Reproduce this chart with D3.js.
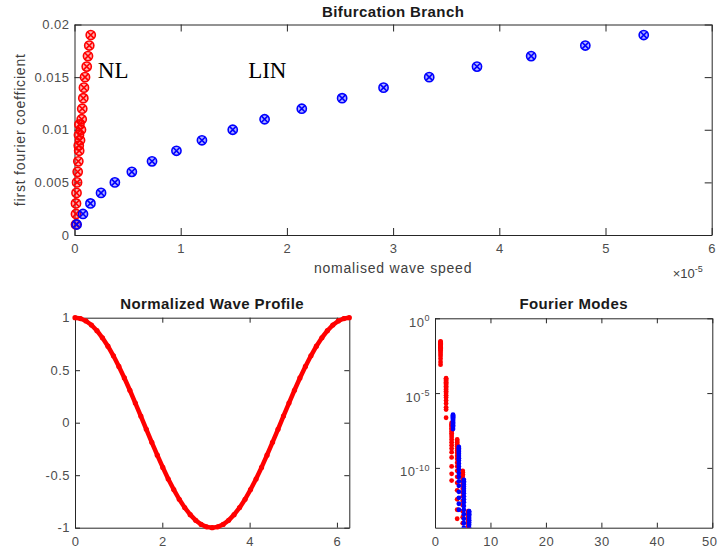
<!DOCTYPE html>
<html>
<head>
<meta charset="utf-8">
<script src="https://cdn.jsdelivr.net/npm/d3@7"></script>
<style>
  body { margin: 0; background: #fff; }
  svg text { font-family: "Liberation Sans", Arial, sans-serif; }
  .tick text { fill: #4d4d4d; font-size: 13px; letter-spacing: 0.5px; }
  .domain, .tick line { stroke: #262626; }
</style>
</head>
<body>
<div id="chart"></div>
<script>
"use strict";

// --- bifurcation branch (x in units of 1e-5) ---
var linSpeed = [0.02, 0.08, 0.15, 0.25, 0.38, 0.54, 0.73, 0.96, 1.20, 1.49,
  1.79, 2.14, 2.52, 2.91, 3.34, 3.79, 4.30, 4.81, 5.36];
var linCoef = [0.001, 0.002, 0.003, 0.004, 0.005, 0.006, 0.007, 0.008, 0.009, 0.010,
  0.011, 0.012, 0.013, 0.014, 0.015, 0.016, 0.017, 0.018, 0.019];
var nlSpeed = [0.014, 0.014, 0.014, 0.019, 0.024, 0.030, 0.036, 0.044, 0.052, 0.061,
  0.068, 0.073, 0.083, 0.089, 0.099, 0.115, 0.127, 0.139, 0.153,
  0.040, 0.042, 0.046];
var nlCoef = [0.001, 0.002, 0.003, 0.004, 0.005, 0.006, 0.007, 0.008, 0.009, 0.010,
  0.011, 0.012, 0.013, 0.014, 0.015, 0.016, 0.017, 0.018, 0.019,
  0.0085, 0.0095, 0.0105];
var branchXTicks = [0, 1, 2, 3, 4, 5, 6];
var branchYTicks = [0, 0.005, 0.01, 0.015, 0.02];

// --- normalized wave profile ---
var waveX = [0, 0.126, 0.251, 0.377, 0.503, 0.628, 0.754, 0.880, 1.005, 1.131, 1.257,
  1.382, 1.508, 1.634, 1.759, 1.885, 2.011, 2.136, 2.262, 2.388, 2.513, 2.639,
  2.765, 2.890, 3.016, 3.142, 3.267, 3.393, 3.519, 3.644, 3.770, 3.896, 4.021,
  4.147, 4.273, 4.398, 4.524, 4.650, 4.775, 4.901, 5.027, 5.152, 5.278, 5.404,
  5.529, 5.655, 5.781, 5.906, 6.032, 6.158, 6.283];
var waveY = [1, 0.992, 0.969, 0.930, 0.876, 0.809, 0.729, 0.637, 0.536, 0.426, 0.309,
  0.187, 0.063, -0.063, -0.187, -0.309, -0.426, -0.536, -0.637, -0.729, -0.809,
  -0.876, -0.930, -0.969, -0.992, -1, -0.992, -0.969, -0.930, -0.876, -0.809,
  -0.729, -0.637, -0.536, -0.426, -0.309, -0.187, -0.063, 0.063, 0.187, 0.309,
  0.426, 0.536, 0.637, 0.729, 0.809, 0.876, 0.930, 0.969, 0.992, 1];
var waveXTicks = [0, 2, 4, 6];
var waveYTicks = [-1, -0.5, 0, 0.5, 1];

// --- fourier modes (log10 of |coefficient|) ---
var nlModeX = [1, 2, 3, 4, 5, 6];
var nlModeExp = [
  [-1.55, -1.58, -1.62, -1.66, -1.70, -1.74, -1.78, -1.83, -1.88, -1.94, -2.00, -2.08, -2.16, -2.26, -2.38, -2.52, -2.70, -2.92, -3.10],
  [-4.00, -4.06, -4.13, -4.20, -4.28, -4.36, -4.45, -4.55, -4.65, -4.76, -4.88, -5.00, -5.15, -5.30, -5.50, -5.70, -5.95, -6.10, -6.65],
  [-7.00, -7.08, -7.16, -7.25, -7.35, -7.45, -7.56, -7.68, -7.80, -7.94, -8.10, -8.28, -8.48, -8.70, -8.95, -9.30, -9.90, -10.40, -10.85],
  [-8.10, -8.20, -8.30, -8.42, -8.55, -8.70, -8.85, -9.00, -9.20, -9.40, -9.65, -9.90, -10.20, -10.60, -11.00, -11.50, -12.10, -12.80, -13.40],
  [-10.20, -10.30, -10.42, -10.55, -10.70, -10.85, -11.00, -11.20, -11.40, -11.65, -11.90, -12.20, -12.50, -12.90, -13.30, -13.70, -14.20],
  [-12.90, -13.00, -13.10, -13.25, -13.40, -13.55, -13.70, -13.90, -14.10]
];
var linModeX = [3.25, 4.3, 5.2, 6.15];
var linModeExp = [
  [-6.45, -6.50, -6.55, -6.62, -6.70, -6.78, -6.87, -6.96, -7.05, -7.15, -7.25, -7.40],
  [-8.60, -8.70, -8.80, -8.92, -9.05, -9.20, -9.35, -9.50, -9.70, -9.90, -10.10, -10.35, -10.60, -10.90, -11.20, -11.60, -12.00, -12.40, -12.80],
  [-10.80, -10.90, -11.00, -11.12, -11.25, -11.40, -11.55, -11.70, -11.90, -12.10, -12.30, -12.55, -12.80, -13.10, -13.40, -13.70, -14.00],
  [-12.90, -13.00, -13.10, -13.20, -13.35, -13.50, -13.65, -13.80, -14.00]
];
var modeXTicks = [0, 10, 20, 30, 40, 50];
var modeYTicks = [-10, -5, 0];

var RED = "#ff0000", BLUE = "#0000ff";

var svg = d3.select("#chart").append("svg")
  .attr("width", 719)
  .attr("height", 550);

// axes box: ticks inside on all four sides, like matlab
function box(g, x, y, xTicks, yTicks, tick, xFmt, yFmt) {
  var w = x.range()[1], h = y.range()[0];
  g.append("g")
    .attr("class", "xaxis")
    .attr("transform", "translate(0," + h + ")")
    .call(d3.axisBottom(x).tickValues(xTicks).tickSizeInner(-tick).tickSizeOuter(0)
      .tickPadding(9).tickFormat(xFmt));
  g.append("g")
    .call(d3.axisTop(x).tickValues(xTicks).tickSizeInner(-tick).tickSizeOuter(0).tickFormat(""));
  var left = g.append("g")
    .call(d3.axisLeft(y).tickValues(yTicks).tickSizeInner(-tick).tickSizeOuter(0)
      .tickPadding(5).tickFormat(yFmt));
  g.append("g")
    .attr("transform", "translate(" + w + ",0)")
    .call(d3.axisRight(y).tickValues(yTicks).tickSizeInner(-tick).tickSizeOuter(0).tickFormat(""));
  g.selectAll(".domain").attr("stroke-width", 1);
  return left;
}

function title(x, y, txt) {
  svg.append("text")
    .attr("x", x).attr("y", y)
    .attr("text-anchor", "middle")
    .attr("font-weight", "bold")
    .attr("font-size", "15px")
    .attr("letter-spacing", "0.4px")
    .attr("fill", "#1a1a1a")
    .text(txt);
}

// circle with a cross through it
function crossMarkers(g, xs, ys, x, y, color) {
  var r = 4.6, k = r * 0.72;
  var m = g.selectAll(null)
    .data(xs.map(function(d, i) { return [d, ys[i]]; }))
    .enter().append("g")
    .attr("transform", function(d) { return "translate(" + x(d[0]) + "," + y(d[1]) + ")"; })
    .attr("stroke", color)
    .attr("stroke-width", 1.6)
    .attr("fill", "none");
  m.append("circle").attr("r", r).attr("fill", color).attr("fill-opacity", 0.3);
  m.append("path").attr("d", "M" + -k + "," + -k + "L" + k + "," + k + "M" + -k + "," + k + "L" + k + "," + -k);
}

// ---------- top: bifurcation branch ----------
(function() {
  var left = 74.5, top = 24.5, width = 711.7 - 74.5, height = 235 - 24.5;
  var x = d3.scaleLinear().domain([0, 6]).range([0, width]);
  var y = d3.scaleLinear().domain([0, 0.02]).range([height, 0]);
  var g = svg.append("g").attr("transform", "translate(" + left + "," + top + ")");

  box(g, x, y, branchXTicks, branchYTicks, 7, function(d) { return String(d); }, function(d) { return String(d); });

  crossMarkers(g, nlSpeed, nlCoef, x, y, RED);
  crossMarkers(g, linSpeed, linCoef, x, y, BLUE);

  g.append("text").attr("x", x(0.22)).attr("y", y(0.0149))
    .style("font-family", "'Liberation Serif', 'Times New Roman', serif")
    .attr("font-size", "23px").text("NL");
  g.append("text").attr("x", x(1.635)).attr("y", y(0.0149))
    .style("font-family", "'Liberation Serif', 'Times New Roman', serif")
    .attr("font-size", "23px").text("LIN");

  g.append("text")
    .attr("x", width / 2).attr("y", height + 38)
    .attr("text-anchor", "middle")
    .attr("font-size", "14px").attr("letter-spacing", "0.8px")
    .attr("fill", "#404040")
    .text("nomalised wave speed");

  var e = g.append("text")
    .attr("x", width - 39).attr("y", height + 43)
    .attr("font-size", "13px").attr("fill", "#404040");
  e.append("tspan").text("\u00d710");
  e.append("tspan").attr("dy", -6).attr("font-size", "9px").text("-5");

  svg.append("text")
    .attr("transform", "translate(25," + (top + height / 2) + ") rotate(-90)")
    .attr("text-anchor", "middle")
    .attr("font-size", "14px").attr("letter-spacing", "0.8px")
    .attr("fill", "#404040")
    .text("first fourier coefficient");

  title(left + width / 2, 17, "Bifurcation Branch");
})();

// ---------- bottom left: wave profile ----------
(function() {
  var left = 75, top = 317.7, width = 349.3 - 75, height = 527.7 - 317.7;
  var x = d3.scaleLinear().domain([0, 2 * Math.PI]).range([0, width]);
  var y = d3.scaleLinear().domain([-1, 1]).range([height, 0]);
  var g = svg.append("g").attr("transform", "translate(" + left + "," + top + ")");

  box(g, x, y, waveXTicks, waveYTicks, 5, function(d) { return String(d); }, function(d) { return String(d); });

  var pts = waveX.map(function(d, i) { return [d, waveY[i]]; });
  g.append("path")
    .datum(pts)
    .attr("fill", "none")
    .attr("stroke", RED)
    .attr("stroke-width", 4.5)
    .attr("stroke-linejoin", "round")
    .attr("d", d3.line().x(function(d) { return x(d[0]); }).y(function(d) { return y(d[1]); }));
  g.selectAll(".wp")
    .data(pts)
    .enter().append("circle")
    .attr("class", "wp")
    .attr("cx", function(d) { return x(d[0]); })
    .attr("cy", function(d) { return y(d[1]); })
    .attr("r", 2.6)
    .attr("fill", RED);

  title(left + width / 2, 309, "Normalized Wave Profile");
})();

// ---------- bottom right: fourier modes ----------
(function() {
  var left = 435, top = 318.3, width = 712.3 - 435, height = 527.7 - 318.3;
  var x = d3.scaleLinear().domain([0, 50]).range([0, width]);
  var y = d3.scaleLog().domain([1e-14, 1]).range([height, 0]);
  var g = svg.append("g").attr("transform", "translate(" + left + "," + top + ")");

  g.append("clipPath").attr("id", "fmclip")
    .append("rect").attr("width", width).attr("height", height);

  var yTickVals = modeYTicks.map(function(e) { return Math.pow(10, e); });
  var leftAxis = box(g, x, y, modeXTicks, yTickVals, 5, function(d) { return String(d); }, function() { return ""; });

  // last x label sits on the window edge; nudge it in a little
  g.selectAll(".xaxis .tick text").filter(function(d) { return d === 50; })
    .attr("letter-spacing", "0px").attr("dx", "-3");

  leftAxis.selectAll(".tick text").each(function(d) {
    var t = d3.select(this).attr("dy", "0.62em");
    t.append("tspan").text("10");
    t.append("tspan").attr("dy", "-0.6em").attr("font-size", "9px")
      .text(String(Math.round(Math.log10(d))));
  });

  var plot = g.append("g").attr("clip-path", "url(#fmclip)");

  function modes(xs, exps, color) {
    var pts = [];
    exps.forEach(function(list, i) {
      list.forEach(function(e) { pts.push([xs[i], Math.pow(10, e)]); });
    });
    plot.selectAll(null)
      .data(pts)
      .enter().append("circle")
      .attr("cx", function(d) { return x(d[0]); })
      .attr("cy", function(d) { return y(d[1]); })
      .attr("r", 2.4)
      .attr("fill", color);
  }
  modes(nlModeX, nlModeExp, RED);
  modes(linModeX, linModeExp, BLUE);

  title(left + width / 2, 309, "Fourier Modes");
})();
</script>
</body>
</html>
